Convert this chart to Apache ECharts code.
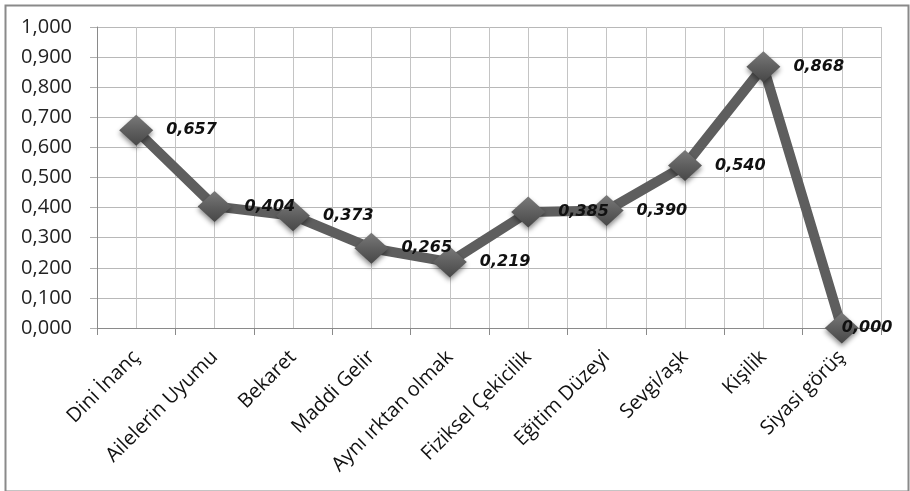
<!DOCTYPE html>
<html>
<head>
<meta charset="utf-8">
<script src="https://cdn.jsdelivr.net/npm/echarts@6/dist/echarts.min.js"></script>
<style>
html,body{margin:0;padding:0;background:#fff;}
#c{width:910px;height:491px;}
</style>
</head>
<body>
<div id="c"></div>
<script>
const categories = ['Dini İnanç','Ailelerin Uyumu','Bekaret','Maddi Gelir','Aynı ırktan olmak','Fiziksel Çekicilik','Eğitim Düzeyi','Sevgi/aşk','Kişilik','Siyasi görüş'];
const values = [0.657, 0.404, 0.373, 0.265, 0.219, 0.385, 0.390, 0.540, 0.868, 0.000];
const yTicks = [0, 0.1, 0.2, 0.3, 0.4, 0.5, 0.6, 0.7, 0.8, 0.9, 1.0];

const fmt = v => v.toFixed(3).replace('.', ',');
const seriesData = values.map((v, i) => i === values.length - 1
  ? { value: v, label: { distance: -17 } }
  : v);

const chart = echarts.init(document.getElementById('c'));
chart.setOption({
  animation: false,
  backgroundColor: '#fff',
  graphic: [{
    type: 'rect', left: 3, top: 3, z: -1,
    shape: { width: 903, height: 486 },
    style: { fill: 'none', stroke: '#8a8a8a', lineWidth: 2 }
  }],
  grid: { left: 97, right: 29, top: 27, bottom: 163 },
  xAxis: [{
    type: 'category',
    data: categories,
    boundaryGap: true,
    axisLine: { lineStyle: { color: '#8a8a8a', width: 1 } },
    axisTick: { show: true, length: 7, lineStyle: { color: '#8a8a8a' } },
    splitLine: { show: true, lineStyle: { color: '#c4c4c4', width: 1 } },
    axisLabel: {
      rotate: 45, interval: 0, margin: 26,
      fontFamily: 'Open Sans', fontSize: 20, color: '#111'
    }
  }, {
    type: 'value', min: 0, max: 10, interval: 0.5,
    position: 'bottom',
    axisLine: { show: false }, axisTick: { show: false }, axisLabel: { show: false },
    splitLine: { show: true, lineStyle: { color: '#c4c4c4', width: 1 } }
  }],
  yAxis: {
    type: 'value', min: 0, max: 1, interval: 0.1,
    axisLine: { show: true, lineStyle: { color: '#8a8a8a' } },
    axisTick: { show: true, length: 7, lineStyle: { color: '#b0b0b0' } },
    splitLine: { show: true, lineStyle: { color: '#b8b8b8', width: 1 } },
    axisLabel: {
      margin: 25, fontFamily: 'Open Sans', fontSize: 20, color: '#222',
      formatter: v => fmt(v)
    }
  },
  series: [{
    type: 'line',
    data: seriesData,
    xAxisIndex: 0,
    symbol: 'diamond',
    symbolSize: [34, 31],
    lineStyle: { color: '#5e5e5e', width: 10 },
    itemStyle: {
      color: new echarts.graphic.LinearGradient(0, 0, 0, 1, [
        { offset: 0, color: '#7a7a7a' },
        { offset: 0.5, color: '#5f5f5f' },
        { offset: 1, color: '#474747' }
      ]),
      shadowBlur: 5, shadowColor: 'rgba(0,0,0,0.45)', shadowOffsetY: 3
    },
    label: {
      show: true, position: 'right', distance: 13,
      fontFamily: 'DejaVu Sans', fontWeight: 'bold', fontStyle: 'italic',
      fontSize: 16, color: '#111',
      formatter: p => fmt(p.value)
    }
  }]
});
</script>
</body>
</html>
